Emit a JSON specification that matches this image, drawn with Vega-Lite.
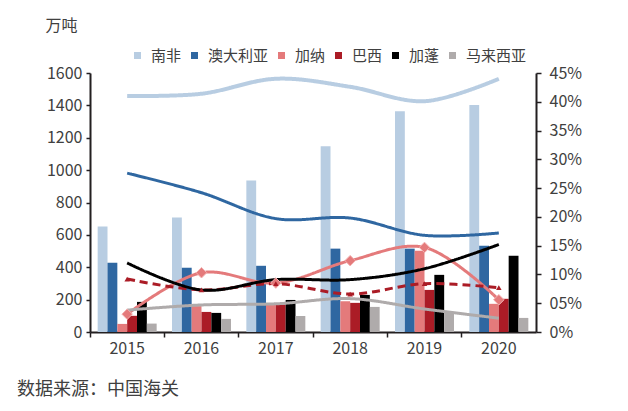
{
  "$schema": "https://vega.github.io/schema/vega-lite/v6.json",
  "width": 446,
  "height": 259,
  "autosize": "none",
  "padding": {"top": 73, "left": 90, "right": 92, "bottom": 79},
  "background": "white",
  "config": {
    "font": "Noto Sans CJK SC",
    "view": {"stroke": null},
    "axis": {
      "domainColor": "#231f20",
      "tickColor": "#231f20",
      "domainWidth": 2,
      "tickWidth": 1.5,
      "labelColor": "#404040",
      "labelFontSize": 16,
      "labelFont": "Noto Sans CJK SC",
      "labelOverlap": false,
      "grid": false
    }
  },
  "title": {
    "text": "数据来源：中国海关",
    "orient": "bottom",
    "anchor": "start",
    "frame": "bounds",
    "fontSize": 18,
    "fontWeight": "normal",
    "color": "#404040",
    "font": "Noto Sans CJK SC",
    "dx": -28,
    "offset": 25
  },
  "data": {
    "values": [
      {"year": "2015", "country": "南非", "tons": 651, "share": 0.410},
      {"year": "2016", "country": "南非", "tons": 707, "share": 0.414},
      {"year": "2017", "country": "南非", "tons": 936, "share": 0.440},
      {"year": "2018", "country": "南非", "tons": 1147, "share": 0.426},
      {"year": "2019", "country": "南非", "tons": 1364, "share": 0.401},
      {"year": "2020", "country": "南非", "tons": 1402, "share": 0.440},
      {"year": "2015", "country": "澳大利亚", "tons": 428, "share": 0.276},
      {"year": "2016", "country": "澳大利亚", "tons": 397, "share": 0.242},
      {"year": "2017", "country": "澳大利亚", "tons": 409, "share": 0.197},
      {"year": "2018", "country": "澳大利亚", "tons": 515, "share": 0.198},
      {"year": "2019", "country": "澳大利亚", "tons": 515, "share": 0.168},
      {"year": "2020", "country": "澳大利亚", "tons": 533, "share": 0.172},
      {"year": "2015", "country": "加纳", "tons": 50, "share": 0.031},
      {"year": "2016", "country": "加纳", "tons": 160, "share": 0.103},
      {"year": "2017", "country": "加纳", "tons": 170, "share": 0.085},
      {"year": "2018", "country": "加纳", "tons": 190, "share": 0.124},
      {"year": "2019", "country": "加纳", "tons": 502, "share": 0.147},
      {"year": "2020", "country": "加纳", "tons": 174, "share": 0.056},
      {"year": "2015", "country": "巴西", "tons": 100, "share": 0.092},
      {"year": "2016", "country": "巴西", "tons": 124, "share": 0.073},
      {"year": "2017", "country": "巴西", "tons": 170, "share": 0.084},
      {"year": "2018", "country": "巴西", "tons": 180, "share": 0.066},
      {"year": "2019", "country": "巴西", "tons": 260, "share": 0.084},
      {"year": "2020", "country": "巴西", "tons": 205, "share": 0.077},
      {"year": "2015", "country": "加蓬", "tons": 186, "share": 0.120},
      {"year": "2016", "country": "加蓬", "tons": 118, "share": 0.073},
      {"year": "2017", "country": "加蓬", "tons": 198, "share": 0.091},
      {"year": "2018", "country": "加蓬", "tons": 229, "share": 0.091},
      {"year": "2019", "country": "加蓬", "tons": 353, "share": 0.110},
      {"year": "2020", "country": "加蓬", "tons": 471, "share": 0.152},
      {"year": "2015", "country": "马来西亚", "tons": 52, "share": 0.038},
      {"year": "2016", "country": "马来西亚", "tons": 81, "share": 0.047},
      {"year": "2017", "country": "马来西亚", "tons": 99, "share": 0.049},
      {"year": "2018", "country": "马来西亚", "tons": 155, "share": 0.058},
      {"year": "2019", "country": "马来西亚", "tons": 118, "share": 0.040},
      {"year": "2020", "country": "马来西亚", "tons": 87, "share": 0.024}
    ]
  },
  "encoding": {
    "x": {
      "field": "year",
      "type": "nominal",
      "scale": {"paddingInner": 0, "paddingOuter": 0},
      "axis": {
        "title": null,
        "labelAngle": 0,
        "bandPosition": 0,
        "tickSize": 5,
        "labelPadding": 3,
        "labelColor": "#404040"
      }
    }
  },
  "layer": [
    {
      "mark": {"type": "bar"},
      "encoding": {
        "xOffset": {
          "field": "country",
          "type": "nominal",
          "scale": {
            "domain": ["南非", "澳大利亚", "加纳", "巴西", "加蓬", "马来西亚"],
            "paddingInner": 0,
            "paddingOuter": 0.78
          }
        },
        "y": {
          "field": "tons",
          "type": "quantitative",
          "scale": {"domain": [0, 1600], "nice": false},
          "axis": {
            "values": [0, 200, 400, 600, 800, 1000, 1200, 1400, 1600],
            "format": "d",
            "title": "万吨",
            "titleAngle": 0,
            "titleAlign": "center",
            "titleBaseline": "middle",
            "titleX": -29,
            "titleY": -48,
            "titleFontSize": 16,
            "titleFontWeight": "normal",
            "titleColor": "#404040",
            "titleFont": "Noto Sans CJK SC",
            "tickSize": 4,
            "labelPadding": 4
          }
        },
        "color": {
          "field": "country",
          "type": "nominal",
          "scale": {
            "domain": ["南非", "澳大利亚", "加纳", "巴西", "加蓬", "马来西亚"],
            "range": ["#b8cde2", "#2f67a1", "#e47a7b", "#ab1c26", "#000000", "#afabab"]
          },
          "legend": {
            "title": null,
            "orient": "none",
            "direction": "horizontal",
            "gridAlign": "none",
            "legendX": 40,
            "legendY": -25,
            "symbolType": "square",
            "symbolSize": 49,
            "symbolStrokeWidth": 0,
            "labelFontSize": 15,
            "labelColor": "#404040",
            "labelFont": "Noto Sans CJK SC",
            "labelOffset": 6,
            "columnPadding": 5
          }
        }
      }
    },
    {
      "encoding": {
        "y": {
          "field": "share",
          "type": "quantitative",
          "scale": {"domain": [0, 0.45], "nice": false},
          "axis": {
            "orient": "right",
            "title": null,
            "values": [0, 0.05, 0.1, 0.15, 0.2, 0.25, 0.3, 0.35, 0.4, 0.45],
            "labelExpr": "datum.value == 0 ? '0%' : (datum.value < 0.099 ? '0' + format(datum.value * 100, '.0f') + '%' : format(datum.value * 100, '.0f') + '%')",
            "tickSize": 5,
            "labelPadding": 8
          }
        },
        "color": {"field": "country", "type": "nominal", "legend": null}
      },
      "layer": [
        {
          "mark": {"type": "line", "interpolate": "catmull-rom"},
          "encoding": {
            "strokeWidth": {
              "condition": {"test": "datum.country === '南非'", "value": 4},
              "value": 3
            },
            "strokeDash": {
              "condition": {"test": "datum.country === '巴西'", "value": [8, 5]},
              "value": [1, 0]
            }
          }
        },
        {
          "transform": [{"filter": "datum.country === '加纳'"}],
          "mark": {"type": "point", "shape": "diamond", "filled": true, "size": 110, "stroke": "#f3b0b0", "strokeWidth": 1, "opacity": 1}
        },
        {
          "transform": [{"filter": "datum.country === '巴西'"}],
          "mark": {"type": "point", "shape": "triangle-up", "filled": true, "size": 30, "opacity": 1}
        }
      ]
    }
  ],
  "resolve": {"scale": {"y": "independent"}}
}
